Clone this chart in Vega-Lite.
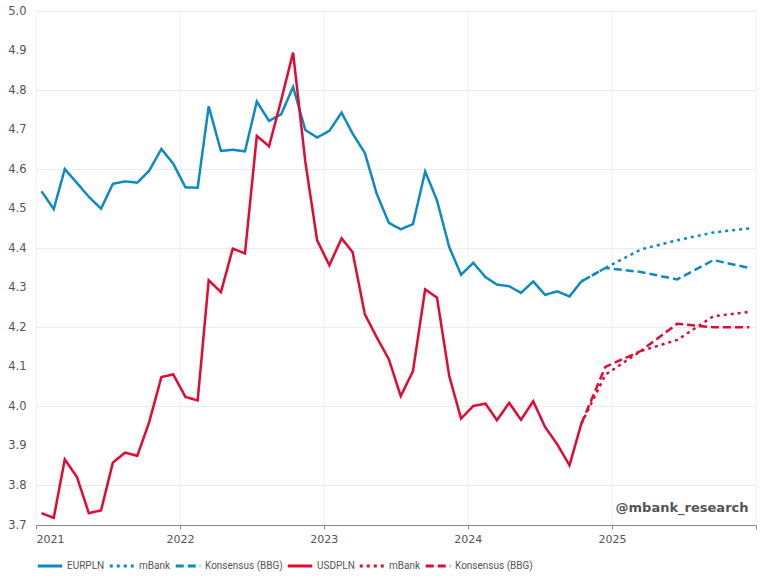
{
"$schema": "https://vega.github.io/schema/vega-lite/v6.json",
"width": 720, "height": 514,
"autosize": "none",
"padding": {"left": 36, "top": 11, "right": 12, "bottom": 59},
"background": "white",
"config": {"view": {"stroke": null}, "font": "DejaVu Sans"},
"data": {"values": [
{"d":"2021-01-15","s":"EURPLN","v":4.544},{"d":"2021-02-15","s":"EURPLN","v":4.499},{"d":"2021-03-15","s":"EURPLN","v":4.600},{"d":"2021-04-15","s":"EURPLN","v":4.565},{"d":"2021-05-15","s":"EURPLN","v":4.530},{"d":"2021-06-15","s":"EURPLN","v":4.500},{"d":"2021-07-15","s":"EURPLN","v":4.563},{"d":"2021-08-15","s":"EURPLN","v":4.569},{"d":"2021-09-15","s":"EURPLN","v":4.566},{"d":"2021-10-15","s":"EURPLN","v":4.596},{"d":"2021-11-15","s":"EURPLN","v":4.651},{"d":"2021-12-15","s":"EURPLN","v":4.614},
{"d":"2022-01-15","s":"EURPLN","v":4.554},{"d":"2022-02-15","s":"EURPLN","v":4.553},{"d":"2022-03-15","s":"EURPLN","v":4.759},{"d":"2022-04-15","s":"EURPLN","v":4.646},{"d":"2022-05-15","s":"EURPLN","v":4.649},{"d":"2022-06-15","s":"EURPLN","v":4.645},{"d":"2022-07-15","s":"EURPLN","v":4.771},{"d":"2022-08-15","s":"EURPLN","v":4.722},{"d":"2022-09-15","s":"EURPLN","v":4.739},{"d":"2022-10-15","s":"EURPLN","v":4.808},{"d":"2022-11-15","s":"EURPLN","v":4.699},{"d":"2022-12-15","s":"EURPLN","v":4.680},
{"d":"2023-01-15","s":"EURPLN","v":4.697},{"d":"2023-02-15","s":"EURPLN","v":4.743},{"d":"2023-03-15","s":"EURPLN","v":4.690},{"d":"2023-04-15","s":"EURPLN","v":4.641},{"d":"2023-05-15","s":"EURPLN","v":4.538},{"d":"2023-06-15","s":"EURPLN","v":4.464},{"d":"2023-07-15","s":"EURPLN","v":4.448},{"d":"2023-08-15","s":"EURPLN","v":4.461},{"d":"2023-09-15","s":"EURPLN","v":4.594},{"d":"2023-10-15","s":"EURPLN","v":4.521},{"d":"2023-11-15","s":"EURPLN","v":4.403},{"d":"2023-12-15","s":"EURPLN","v":4.333},
{"d":"2024-01-15","s":"EURPLN","v":4.363},{"d":"2024-02-15","s":"EURPLN","v":4.327},{"d":"2024-03-15","s":"EURPLN","v":4.308},{"d":"2024-04-15","s":"EURPLN","v":4.304},{"d":"2024-05-15","s":"EURPLN","v":4.287},{"d":"2024-06-15","s":"EURPLN","v":4.316},{"d":"2024-07-15","s":"EURPLN","v":4.282},{"d":"2024-08-15","s":"EURPLN","v":4.291},{"d":"2024-09-15","s":"EURPLN","v":4.278},{"d":"2024-10-15","s":"EURPLN","v":4.316},
{"d":"2024-10-15","s":"EUR_mBank","v":4.316},{"d":"2024-12-15","s":"EUR_mBank","v":4.350},{"d":"2025-03-15","s":"EUR_mBank","v":4.397},{"d":"2025-06-15","s":"EUR_mBank","v":4.420},{"d":"2025-09-15","s":"EUR_mBank","v":4.440},{"d":"2025-12-15","s":"EUR_mBank","v":4.450},
{"d":"2024-10-15","s":"EUR_Kons","v":4.316},{"d":"2024-12-15","s":"EUR_Kons","v":4.350},{"d":"2025-03-15","s":"EUR_Kons","v":4.340},{"d":"2025-06-15","s":"EUR_Kons","v":4.321},{"d":"2025-09-15","s":"EUR_Kons","v":4.370},{"d":"2025-12-15","s":"EUR_Kons","v":4.350},
{"d":"2021-01-15","s":"USDPLN","v":3.730},{"d":"2021-02-15","s":"USDPLN","v":3.718},{"d":"2021-03-15","s":"USDPLN","v":3.866},{"d":"2021-04-15","s":"USDPLN","v":3.821},{"d":"2021-05-15","s":"USDPLN","v":3.730},{"d":"2021-06-15","s":"USDPLN","v":3.737},{"d":"2021-07-15","s":"USDPLN","v":3.858},{"d":"2021-08-15","s":"USDPLN","v":3.883},{"d":"2021-09-15","s":"USDPLN","v":3.875},{"d":"2021-10-15","s":"USDPLN","v":3.960},{"d":"2021-11-15","s":"USDPLN","v":4.074},{"d":"2021-12-15","s":"USDPLN","v":4.081},
{"d":"2022-01-15","s":"USDPLN","v":4.024},{"d":"2022-02-15","s":"USDPLN","v":4.015},{"d":"2022-03-15","s":"USDPLN","v":4.319},{"d":"2022-04-15","s":"USDPLN","v":4.289},{"d":"2022-05-15","s":"USDPLN","v":4.399},{"d":"2022-06-15","s":"USDPLN","v":4.387},{"d":"2022-07-15","s":"USDPLN","v":4.684},{"d":"2022-08-15","s":"USDPLN","v":4.658},{"d":"2022-09-15","s":"USDPLN","v":4.775},{"d":"2022-10-15","s":"USDPLN","v":4.895},{"d":"2022-11-15","s":"USDPLN","v":4.619},{"d":"2022-12-15","s":"USDPLN","v":4.420},
{"d":"2023-01-15","s":"USDPLN","v":4.357},{"d":"2023-02-15","s":"USDPLN","v":4.425},{"d":"2023-03-15","s":"USDPLN","v":4.390},{"d":"2023-04-15","s":"USDPLN","v":4.233},{"d":"2023-05-15","s":"USDPLN","v":4.175},{"d":"2023-06-15","s":"USDPLN","v":4.119},{"d":"2023-07-15","s":"USDPLN","v":4.026},{"d":"2023-08-15","s":"USDPLN","v":4.089},{"d":"2023-09-15","s":"USDPLN","v":4.296},{"d":"2023-10-15","s":"USDPLN","v":4.275},{"d":"2023-11-15","s":"USDPLN","v":4.077},{"d":"2023-12-15","s":"USDPLN","v":3.969},
{"d":"2024-01-15","s":"USDPLN","v":4.001},{"d":"2024-02-15","s":"USDPLN","v":4.007},{"d":"2024-03-15","s":"USDPLN","v":3.965},{"d":"2024-04-15","s":"USDPLN","v":4.009},{"d":"2024-05-15","s":"USDPLN","v":3.966},{"d":"2024-06-15","s":"USDPLN","v":4.013},{"d":"2024-07-15","s":"USDPLN","v":3.948},{"d":"2024-08-15","s":"USDPLN","v":3.904},{"d":"2024-09-15","s":"USDPLN","v":3.851},{"d":"2024-10-15","s":"USDPLN","v":3.956},
{"d":"2024-10-15","s":"USD_mBank","v":3.956},{"d":"2024-12-15","s":"USD_mBank","v":4.080},{"d":"2025-03-15","s":"USD_mBank","v":4.140},{"d":"2025-06-15","s":"USD_mBank","v":4.168},{"d":"2025-09-15","s":"USD_mBank","v":4.228},{"d":"2025-12-15","s":"USD_mBank","v":4.239},
{"d":"2024-10-15","s":"USD_Kons","v":3.956},{"d":"2024-12-15","s":"USD_Kons","v":4.100},{"d":"2025-03-15","s":"USD_Kons","v":4.140},{"d":"2025-06-15","s":"USD_Kons","v":4.209},{"d":"2025-09-15","s":"USD_Kons","v":4.200},{"d":"2025-12-15","s":"USD_Kons","v":4.200}
]},
"resolve": {"axis": {"y": "independent"}},
"layer": [
{
"mark": {"type": "line", "strokeWidth": 2.5},
"encoding": {
"x": {"field": "d", "type": "temporal",
 "scale": {"type": "utc", "domain": [{"year":2021,"month":1,"date":1,"utc":true},{"year":2026,"month":1,"date":1,"utc":true}]},
 "axis": {"title": null,
  "values": [{"year":2021,"month":1,"date":1,"utc":true},{"year":2022,"month":1,"date":1,"utc":true},{"year":2023,"month":1,"date":1,"utc":true},{"year":2024,"month":1,"date":1,"utc":true},{"year":2025,"month":1,"date":1,"utc":true},{"year":2026,"month":1,"date":1,"utc":true}],
  "labelExpr": "utcFormat(datum.value,'%Y') == '2026' ? '' : utcFormat(datum.value,'%Y')",
  "tickSize": 4, "tickColor": "#888", "domainColor": "#888", "gridColor": "#f3f3f3",
  "labelColor": "#555", "labelFontSize": 11, "labelPadding": 4, "labelFont": "DejaVu Sans"}},
"y": {"field": "v", "type": "quantitative",
 "scale": {"domain": [3.7, 5.0], "nice": false, "zero": false},
 "axis": {"title": null, "orient": "left", "tickCount": 13,
  "format": ".1f", "ticks": false, "domain": false, "labelPadding": 10, "labelOverlap": false, "labelFlush": false,
  "labelColor": "#555", "labelFontSize": 11.5, "labelFont": "DejaVu Sans", "grid": false}},
"color": {"field": "s", "type": "nominal",
 "scale": {"domain": ["EURPLN","EUR_mBank","EUR_Kons","USDPLN","USD_mBank","USD_Kons"],
  "range": ["#0d8ac2","#0d8ac2","#0d8ac2","#e20a32","#e20a32","#e20a32"]},
 "legend": {"title": null, "orient": "bottom", "direction": "horizontal", "offset": 8,
  "labelExpr": "indexof(datum.label,'mBank') >= 0 ? 'mBank' : (indexof(datum.label,'Kons') >= 0 ? 'Konsensus (BBG)' : datum.label)",
  "symbolType": "stroke", "symbolSize": 600, "symbolStrokeWidth": 3, "labelFontSize": 10,
  "labelColor": "#555", "labelOffset": 3, "columnPadding": -2, "labelFont": "Roboto"}},
"strokeDash": {"field": "s", "type": "nominal",
 "scale": {"domain": ["EURPLN","EUR_mBank","EUR_Kons","USDPLN","USD_mBank","USD_Kons"],
  "range": [[1,0],[3,4],[8,4],[1,0],[3,4],[8,4]]},
 "legend": {"title": null, "orient": "bottom", "direction": "horizontal", "offset": 8,
  "labelExpr": "indexof(datum.label,'mBank') >= 0 ? 'mBank' : (indexof(datum.label,'Kons') >= 0 ? 'Konsensus (BBG)' : datum.label)",
  "symbolType": "stroke", "symbolSize": 600, "symbolStrokeWidth": 3, "labelFontSize": 10,
  "labelColor": "#555", "labelOffset": 3, "columnPadding": -2, "labelFont": "Roboto"}}
}
},
{
"data": {"values": [{"t": "@mbank_research"}]},
"mark": {"type": "text", "align": "right", "baseline": "middle", "fontSize": 13, "fontWeight": "bold", "font": "DejaVu Sans", "color": "#555"},
"encoding": {
"x": {"datum": {"year":2025,"month":12,"date":13,"utc":true}, "type": "temporal"},
"y": {"datum": 3.744, "type": "quantitative",
 "axis": {"title": null, "orient": "right", "values": [3.8,4.0,4.2,4.4,4.6,4.8,5.0], "labels": false, "ticks": false, "domain": false, "grid": true, "gridColor": "#ebebeb"}},
"text": {"field": "t"}
}
}
]
}
